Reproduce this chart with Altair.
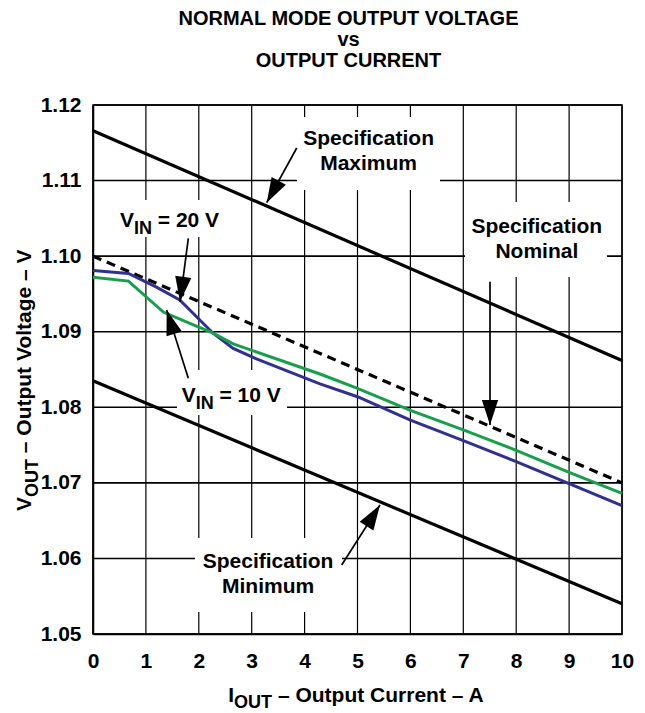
import math
import altair as alt
import pandas as pd

# ---------------- data ----------------
spec_a = [0, 10]
spec_max_v = [1.1166, 1.0862]
spec_nom_v = [1.1000, 1.0700]
spec_min_v = [1.0835, 1.0540]

vin20_a = [0, 0.67, 1.2, 1.64, 2.27, 2.65, 3.09, 4.29, 5, 6, 7, 8, 9, 10]
vin20_v = [1.0981, 1.0977, 1.0959, 1.0942, 1.0898, 1.0878, 1.0864, 1.0831,
           1.0814, 1.0783, 1.0756, 1.0728, 1.0699, 1.0670]
vin10_a = [0, 0.67, 1.33, 1.83, 2.27, 2.65, 4.29, 5, 6, 7, 8, 9, 10]
vin10_v = [1.0972, 1.0967, 1.0926, 1.0911, 1.0898, 1.0884, 1.0844,
           1.0825, 1.0796, 1.0770, 1.0743, 1.0714, 1.0686]

x_ticks = [0, 1, 2, 3, 4, 5, 6, 7, 8, 9, 10]
y_ticks = [1.05, 1.06, 1.07, 1.08, 1.09, 1.10, 1.11, 1.12]
x_extent = [0, 10]
y_extent = [1.05, 1.12]

# annotation labels (data units)
spec_label_text = ["Specification\nMaximum", "Specification\nNominal", "Specification\nMinimum"]
spec_label_a = [5.21, 8.39, 3.31]
spec_label_v = [1.11471, 1.10310, 1.05877]

vin_label_val = ["= 20 V", "= 10 V"]
vin_label_a = [0.510, 1.677]
vin_label_v = [1.10390, 1.08074]

# arrows: tail -> tip (data units)
arrow_tail_a = [3.851, 7.505, 4.701, 1.802, 1.802]
arrow_tail_v = [1.11431, 1.09662, 1.05913, 1.10236, 1.08384]
arrow_tip_a = [3.284, 7.505, 5.425, 1.645, 1.393]
arrow_tip_v = [1.10707, 1.07766, 1.06707, 1.09397, 1.09287]

# white label backgrounds (data units)
box_a1 = [0.378, 1.588, 3.856, 7.032, 1.928]
box_a2 = [2.552, 3.667, 6.560, 9.716, 4.707]
box_v1 = [1.10743, 1.08493, 1.11841, 1.10716, 1.06270]
box_v2 = [1.10253, 1.07898, 1.10875, 1.09724, 1.05291]

# ---------------- layout ----------------
W, H = 529, 529
FONT = "Liberation Sans"
FS = 21
SUB = 18
SP = 5.8  # width of a space at FS
BLUE = "#2E3192"
GREEN = "#17A04B"

xs = alt.Scale(domain=x_extent, nice=False, zero=False)
ys = alt.Scale(domain=y_extent, nice=False, zero=False)
xax = alt.Axis(values=x_ticks, title=None, grid=False)
yax = alt.Axis(values=y_ticks, title=None, format=".2f", grid=False)


def X(f):
    return alt.X(f, type="quantitative", scale=xs, axis=xax)


def Y(f):
    return alt.Y(f, type="quantitative", scale=ys, axis=yax)


# ---------------- frames ----------------
boxes = pd.DataFrame({"a1": box_a1, "a2": box_a2, "v1": box_v1, "v2": box_v2})

spec_df = pd.concat([
    pd.DataFrame({"a": spec_a, "v": spec_max_v, "s": "max"}),
    pd.DataFrame({"a": spec_a, "v": spec_min_v, "s": "min"}),
])
nom_df = pd.DataFrame({"a": spec_a, "v": spec_nom_v})
curve_df = pd.concat([
    pd.DataFrame({"a": vin20_a, "v": vin20_v, "s": "VIN = 20 V"}),
    pd.DataFrame({"a": vin10_a, "v": vin10_v, "s": "VIN = 10 V"}),
])

pxa = W / 10.0
pxv = H / 0.07
angles = []
for ta, tv, pa, pv in zip(arrow_tail_a, arrow_tail_v, arrow_tip_a, arrow_tip_v):
    dx = (pa - ta) * pxa
    dy = -(pv - tv) * pxv
    angles.append(math.degrees(math.atan2(dx, -dy)) % 360)
arrows = pd.DataFrame({"ta": arrow_tail_a, "tv": arrow_tail_v,
                       "pa": arrow_tip_a, "pv": arrow_tip_v, "ang": angles})

spec_lbl = pd.DataFrame({"t": spec_label_text, "a": spec_label_a, "v": spec_label_v})
vin_lbl = pd.DataFrame({"t": vin_label_val, "a": vin_label_a, "v": vin_label_v})

xgrid = pd.DataFrame({"t": x_ticks, "lo": y_extent[0], "hi": y_extent[1]})
ygrid = pd.DataFrame({"t": y_ticks, "lo": x_extent[0], "hi": x_extent[1]})

# ---------------- layers ----------------
GRID = "#000000"
xgrid_layer = alt.Chart(xgrid).mark_rule(color=GRID, strokeWidth=1.2).encode(
    x=X("t"), y=Y("lo"), y2="hi")
ygrid_layer = alt.Chart(ygrid).mark_rule(color=GRID, strokeWidth=1.6).encode(
    y=Y("t"), x=X("lo"), x2="hi")

box_layer = alt.Chart(boxes).mark_rect(fill="white", strokeWidth=0).encode(
    x=X("a1"), x2="a2", y=Y("v1"), y2="v2")

spec_layer = alt.Chart(spec_df).mark_line(color="black", strokeWidth=3.2).encode(
    x=X("a"), y=Y("v"), detail="s:N")

nom_layer = alt.Chart(nom_df).mark_line(color="black", strokeWidth=3.2,
                                         strokeDash=[9, 6]).encode(x=X("a"), y=Y("v"))

curve_layer = alt.Chart(curve_df).mark_line(strokeWidth=3).encode(
    x=X("a"), y=Y("v"),
    color=alt.Color("s:N", scale=alt.Scale(domain=["VIN = 20 V", "VIN = 10 V"],
                                           range=[BLUE, GREEN]), legend=None))

shaft_layer = alt.Chart(arrows).mark_rule(color="black", strokeWidth=1.7).encode(
    x=X("ta"), y=Y("tv"), x2="pa", y2="pv")

head_layer = alt.Chart(arrows).mark_point(
    shape="M0,0L0.65,2L-0.65,2Z", size=625, filled=True, color="black",
    opacity=1, strokeWidth=0).encode(
    x=X("pa"), y=Y("pv"), angle=alt.Angle("ang:Q", scale=None))

txt = dict(font=FONT, fontWeight="bold", color="black")

spec_text = alt.Chart(spec_lbl).mark_text(
    fontSize=FS, align="center", baseline="alphabetic", lineBreak="\n",
    lineHeight=25, **txt).encode(x=X("a"), y=Y("v"), text="t:N")

vin_v = alt.Chart(vin_lbl).mark_text(fontSize=FS, align="left", baseline="alphabetic",
                                     **txt).encode(x=X("a"), y=Y("v"), text=alt.value("V"))
vin_in = alt.Chart(vin_lbl).mark_text(fontSize=SUB, align="left", baseline="alphabetic",
                                      dx=14, dy=7, **txt).encode(
    x=X("a"), y=Y("v"), text=alt.value("IN"))
vin_rest = alt.Chart(vin_lbl).mark_text(
    fontSize=FS, align="left", baseline="alphabetic", dx=32 + SP, **txt).encode(
    x=X("a"), y=Y("v"), text="t:N")

# axis titles with subscripts (pixel positions relative to plot area)
one = pd.DataFrame({"k": [0]})


def piece(text, x, y, size, angle=0):
    return alt.Chart(one).mark_text(fontSize=size, align="left", baseline="alphabetic",
                                    angle=angle, **txt).encode(
        x=alt.value(x), y=alt.value(y), text=alt.value(text))


xt_y = 597
xt_x = 135.3
x_title = [
    piece("I", xt_x, xt_y, FS),
    piece("OUT", xt_x + 5.8, xt_y + 6, SUB),
    piece("\u2013 Output Current \u2013 A", xt_x + 5.8 + 38 + SP, xt_y, FS),
]
yt_x = -62.3
yt_y = 406
y_title = [
    piece("V", yt_x, yt_y, FS, 270),
    piece("OUT", yt_x + 7, yt_y - 14, SUB, 270),
    piece("\u2013 Output Voltage \u2013 V", yt_x, yt_y - 14 - 38 - SP, FS, 270),
]

chart = alt.layer(
    xgrid_layer, ygrid_layer, box_layer, spec_layer, nom_layer, curve_layer,
    shaft_layer, head_layer, spec_text, vin_v, vin_in, vin_rest, *x_title, *y_title
).properties(
    width=W, height=H,
    padding={"left": 85, "top": 97, "right": 15, "bottom": 79},
    autosize=alt.AutoSizeParams(type="none"),
    title=alt.TitleParams(
        text=["NORMAL MODE OUTPUT VOLTAGE", "vs", "OUTPUT CURRENT"],
        anchor="middle", dx=-9, offset=23, fontSize=20, font=FONT,
        fontWeight="bold", lineHeight=21, color="black"),
).configure_view(
    stroke="black", strokeWidth=1.5
).configure_axis(
    grid=False,
    domain=True, domainColor="black", domainWidth=1.5,
    ticks=False, labelFont=FONT, labelFontSize=FS, labelFontWeight="bold",
    labelColor="black", labelFlush=False, labelOverlap=False,
).configure_axisX(labelPadding=16).configure_axisY(labelPadding=12)

chart.save("out.html", embed_options={"renderer": "svg", "actions": False})
